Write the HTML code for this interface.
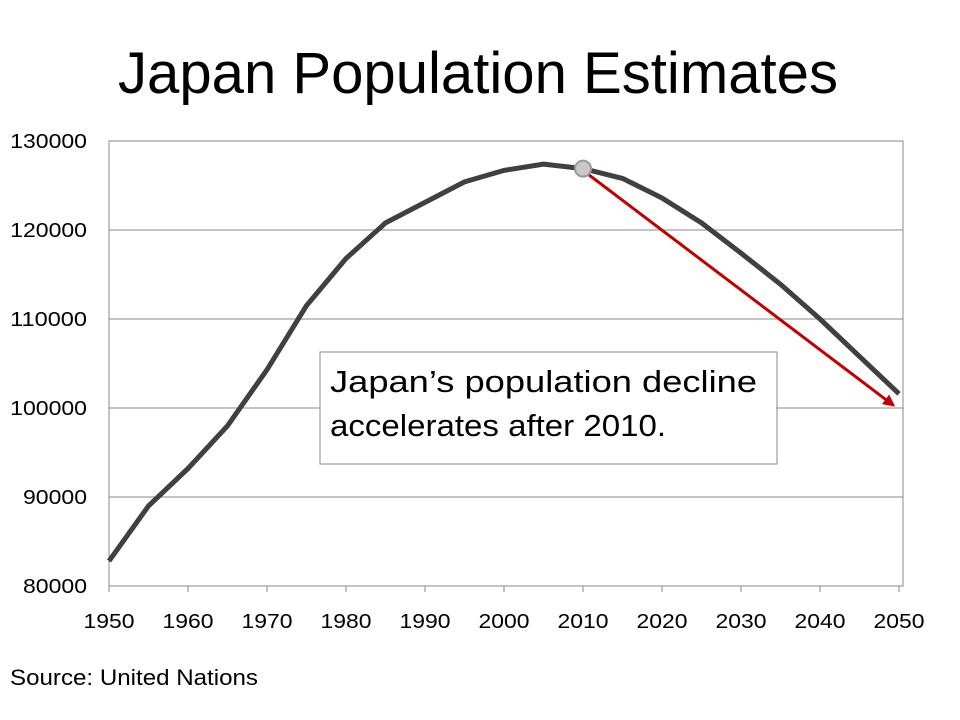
<!DOCTYPE html>
<html><head><meta charset="utf-8"><style>
body{margin:0;background:#fff;}
svg{display:block;font-family:"Liberation Sans",Calibri,sans-serif;}
</style></head><body>
<svg id="c" width="960" height="720" viewBox="0 0 960 720">
<text x="478" y="93" text-anchor="middle" font-size="58" fill="#000" textLength="720" lengthAdjust="spacingAndGlyphs">Japan Population Estimates</text>
<g id="grid"></g><g id="axes"></g><g id="series"></g>
<defs><marker id="ah" markerWidth="12" markerHeight="12" refX="10" refY="6" orient="auto" markerUnits="userSpaceOnUse"><path d="M0,0 L12,6 L0,12 Z" fill="#c00000"/></marker></defs>
<rect x="320" y="352" width="457" height="112" fill="#fff" stroke="#888" stroke-width="1"/>
<text x="330" y="392" font-size="31" fill="#000" textLength="427" lengthAdjust="spacingAndGlyphs">Japan’s population decline</text>
<text x="330" y="436" font-size="31" fill="#000" textLength="336" lengthAdjust="spacingAndGlyphs">accelerates after 2010.</text>
<text x="10" y="685" font-size="22" fill="#000" textLength="248" lengthAdjust="spacingAndGlyphs">Source: United Nations</text>
</svg>
<script>
const years=[1950,1955,1960,1965,1970,1975,1980,1985,1990,1995,2000,2005,2010,2015,2020,2025,2030,2035,2040,2045,2050];
const population=[82800,89000,93200,98000,104300,111500,116800,120800,123100,125400,126700,127400,126900,125800,123600,120800,117400,113900,110000,105800,101600];
const yTicks=[80000,90000,100000,110000,120000,130000];
const xTicks=[1950,1960,1970,1980,1990,2000,2010,2020,2030,2040,2050];
const highlightYear=2010, highlightValue=126900;
const arrowFrom=[2010,126700], arrowTo=[2049.3,100300];
const NS="http://www.w3.org/2000/svg";
const x0=109,x1=899,y0=586,y1=141;
const X=v=>x0+(v-1950)/(100)*(x1-x0);
const Y=v=>y0-(v-80000)/50000*(y0-y1);
function mk(t,a,p){const e=document.createElementNS(NS,t);for(const k in a)e.setAttribute(k,a[k]);p.appendChild(e);return e;}
const grid=document.getElementById('grid'),axes=document.getElementById('axes'),series=document.getElementById('series');
const frame=mk('rect',{x:x0,y:y1,width:903-x0,height:y0-y1,fill:'none',stroke:'#888','stroke-width':1},grid);


yTicks.forEach(v=>{
  const l=mk('line',{x1:x0,x2:903,y1:Y(v),y2:Y(v),stroke:'#888','stroke-width':1},grid);
  
  
  const t=mk('text',{x:87,y:Y(v)+7,'text-anchor':'end','font-size':20,fill:'#000',textLength:String(v).length*12.8,lengthAdjust:'spacingAndGlyphs'},axes);
  t.textContent=v;
  
  
});
xTicks.forEach(v=>{
  const l=mk('line',{x1:X(v),x2:X(v),y1:y0,y2:y0+6,stroke:'#888','stroke-width':1},axes);
  
  
  const t=mk('text',{x:X(v),y:628,'text-anchor':'middle','font-size':20,fill:'#000',textLength:51,lengthAdjust:'spacingAndGlyphs'},axes);
  t.textContent=v;
  
  
});
const d=years.map((y,i)=>(i?'L':'M')+X(y).toFixed(1)+','+Y(population[i]).toFixed(1)).join(' ');
const line=mk('path',{d:d,fill:'none',stroke:'#404040','stroke-width':5,'stroke-linejoin':'round'},series);


const ar=mk('line',{x1:X(arrowFrom[0]),y1:Y(arrowFrom[1]),x2:X(arrowTo[0]),y2:Y(arrowTo[1]),stroke:'#c00000','stroke-width':3,'marker-end':'url(#ah)'},series);


const pt=mk('circle',{cx:X(highlightYear),cy:Y(highlightValue),r:8,fill:'#c8c8c8',stroke:'#999','stroke-width':2},series);


</script>
</body></html>
